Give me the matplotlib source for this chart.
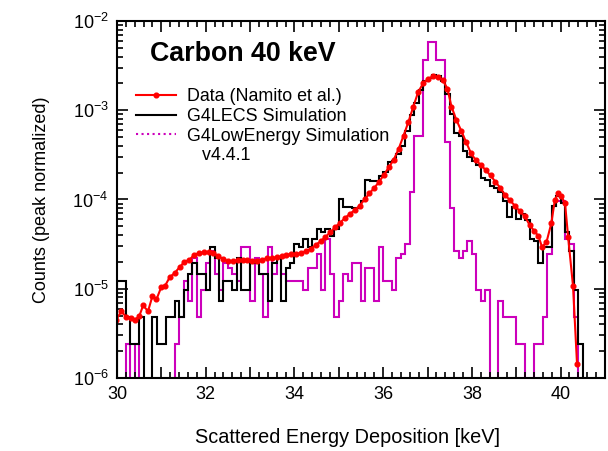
import numpy as np
import matplotlib.pyplot as plt
from matplotlib.lines import Line2D
from matplotlib.ticker import MultipleLocator, FuncFormatter

plt.rcParams['font.family'] = ['Liberation Sans', 'DejaVu Sans']
plt.rcParams['mathtext.fontset'] = 'custom'
plt.rcParams['mathtext.rm'] = 'Liberation Sans'

# measured spectrum (Namito et al.)
data_e = [29.98, 30.10, 30.21, 30.31, 30.40, 30.50, 30.59, 30.70, 30.80, 30.89,
          31.00, 31.08, 31.19, 31.30, 31.41, 31.52, 31.63, 31.74, 31.85, 31.96,
          32.07, 32.17, 32.28, 32.39, 32.50, 32.61, 32.72, 32.83, 32.94, 33.05,
          33.16, 33.27, 33.38, 33.49, 33.60, 33.71, 33.82, 33.93, 34.04, 34.15,
          34.26, 34.37, 34.48, 34.59, 34.70, 34.81, 34.92, 35.03, 35.14, 35.25,
          35.36, 35.47, 35.58, 35.69, 35.80, 35.91, 36.02, 36.13, 36.24, 36.35,
          36.46, 36.57, 36.68, 36.79, 36.90, 37.01, 37.12, 37.23, 37.34, 37.45,
          37.54, 37.65, 37.76, 37.87, 37.98, 38.09, 38.20, 38.31, 38.42, 38.53,
          38.64, 38.75, 38.86, 38.97, 39.08, 39.19, 39.30, 39.41, 39.50, 39.58,
          39.68, 39.79, 39.87, 39.94, 40.01, 40.10, 40.17, 40.28, 40.37]
data_y = [4.47e-6, 5.6e-6, 4.8e-6, 4.7e-6, 4.5e-6, 4.9e-6, 6.5e-6, 5.6e-6, 8.3e-6, 7.6e-6,
          1.05e-5, 1.07e-5, 1.35e-5, 1.5e-5, 1.74e-5, 2.0e-5, 2.1e-5, 2.4e-5, 2.5e-5, 2.57e-5,
          2.57e-5, 2.5e-5, 2.35e-5, 2.14e-5, 2.04e-5, 2.04e-5, 2.1e-5, 2.1e-5, 2.1e-5, 2.07e-5,
          2.04e-5, 2.1e-5, 2.2e-5, 2.2e-5, 2.24e-5, 2.3e-5, 2.4e-5, 2.45e-5, 2.45e-5, 2.5e-5,
          2.63e-5, 2.8e-5, 3.1e-5, 3.4e-5, 3.8e-5, 4.3e-5, 4.9e-5, 5.5e-5, 6.2e-5, 6.9e-5,
          7.6e-5, 8.5e-5, 1.0e-4, 1.17e-4, 1.35e-4, 1.58e-4, 1.9e-4, 2.3e-4, 2.8e-4, 3.7e-4,
          5.2e-4, 7.4e-4, 1.1e-3, 1.6e-3, 2.0e-3, 2.24e-3, 2.4e-3, 2.34e-3, 2.2e-3, 1.74e-3,
          1.1e-3, 7.8e-4, 5.9e-4, 4.4e-4, 3.3e-4, 2.75e-4, 2.45e-4, 2.14e-4, 1.86e-4, 1.58e-4,
          1.35e-4, 1.12e-4, 9.8e-5, 8.5e-5, 7.4e-5, 6.5e-5, 5.2e-5, 4.4e-5, 3.9e-5, 2.95e-5,
          3.3e-5, 5.4e-5, 9.8e-5, 1.17e-4, 1.1e-4, 9.1e-5, 3.8e-5, 1.07e-5, 1.45e-6]

# simulated spectra: counts in 0.1 keV bins from 30.0 to 40.6 keV
lecs_counts = [5, 5, 2, 1, 1, 2, 0, 0, 2, 1,
               1, 2, 2, 3, 2, 4, 6, 8, 6, 6,
               4, 12, 9, 3, 5, 5, 4, 9, 4, 4,
               8, 8, 6, 6, 3, 8, 9, 3, 7, 8,
               13, 12, 15, 12, 15, 19, 18, 19, 16, 19,
               42, 34, 34, 33, 33, 40, 68, 66, 67, 76,
               83, 108, 112, 133, 165, 240, 360, 500, 700, 870,
               950, 1020, 990, 880, 620, 378, 230, 210, 145, 123,
               110, 99, 72, 68, 59, 56, 50, 40, 26, 34,
               25, 28, 24, 15, 14, 8, 12, 12, 35, 45,
               38, 18, 11, 4, 1, 0]
lowe_counts = [0, 0, 1, 0, 1, 0, 0, 0, 0, 0,
               0, 0, 0, 1, 2, 5, 3, 9, 2, 4,
               8, 11, 6, 4, 8, 7, 6, 5, 12, 12,
               3, 9, 6, 2, 12, 6, 9, 6, 5, 5,
               5, 5, 4, 7, 7, 10, 4, 15, 6, 2,
               3, 6, 5, 8, 8, 3, 7, 7, 3, 12,
               5, 5, 4, 9, 10, 13, 50, 210, 210, 1500,
               2400, 2400, 1500, 1500, 180, 33, 11, 9, 11, 14,
               10, 4, 3, 4, 0, 0, 3, 2, 2, 2,
               1, 1, 0, 0, 1, 1, 2, 10, 35, 40,
               40, 15, 13, 2, 0, 0]
count_unit = 2.43e-6   # one simulated count after peak normalisation

edges = np.linspace(30.0, 40.6, len(lecs_counts) + 1)
floor = 1e-9  # empty bins drop below the axis
lecs = np.maximum(np.array(lecs_counts) * count_unit, floor)
lowe = np.maximum(np.array(lowe_counts) * count_unit, floor)

red = '#ff0000'
magenta = '#cc00bb'

fig = plt.figure(figsize=(6.08, 4.51), dpi=100)
ax = fig.add_axes([0.1924, 0.1619, 0.8026, 0.7915])

ax.stairs(lowe, edges, baseline=floor, color=magenta, lw=1.5)
ax.stairs(lecs, edges, baseline=floor, color='black', lw=1.5)
ax.plot(data_e, data_y, color=red, lw=1.5, marker='o', ms=3.4)

ax.set_yscale('log')
ax.set_ylim(1e-6, 1e-2)
ax.set_xlim(30, 41)

ax.xaxis.set_major_locator(MultipleLocator(1))
ax.xaxis.set_minor_locator(MultipleLocator(0.2))
ax.xaxis.set_major_formatter(FuncFormatter(lambda v, p: f'{v:.0f}' if round(v) % 2 == 0 else ''))
ax.tick_params(which='both', direction='in', top=True, right=True, width=1.2, labelsize=13)
ax.tick_params(which='major', length=8, pad=6)
ax.tick_params(which='minor', length=4)
for s in ax.spines.values():
    s.set_linewidth(1.5)

ax.set_xlabel('Scattered Energy Deposition [keV]', fontsize=14.3, labelpad=18)
ax.xaxis.label.set_x(0.473)
ax.set_ylabel('Counts (peak normalized)', fontsize=13, labelpad=16)

ax.text(0.068, 0.907, 'Carbon 40 keV', transform=ax.transAxes, fontsize=19.3,
        fontweight='bold', va='center', ha='left')

handles = [Line2D([], [], color=red, lw=1.5, marker='o', ms=3.4),
           Line2D([], [], color='black', lw=1.5),
           Line2D([], [], color=magenta, lw=1.5, ls=':'),
           Line2D([], [], color='none')]
labels = ['Data (Namito et al.)', 'G4LECS Simulation', 'G4LowEnergy Simulation', '   v4.4.1']
ax.legend(handles, labels, loc='upper left', bbox_to_anchor=(0.025, 0.832), frameon=False,
          fontsize=12.9, handlelength=2.2, handletextpad=0.6, labelspacing=0.155,
          borderaxespad=0)

fig.savefig('out.png', dpi=100)
